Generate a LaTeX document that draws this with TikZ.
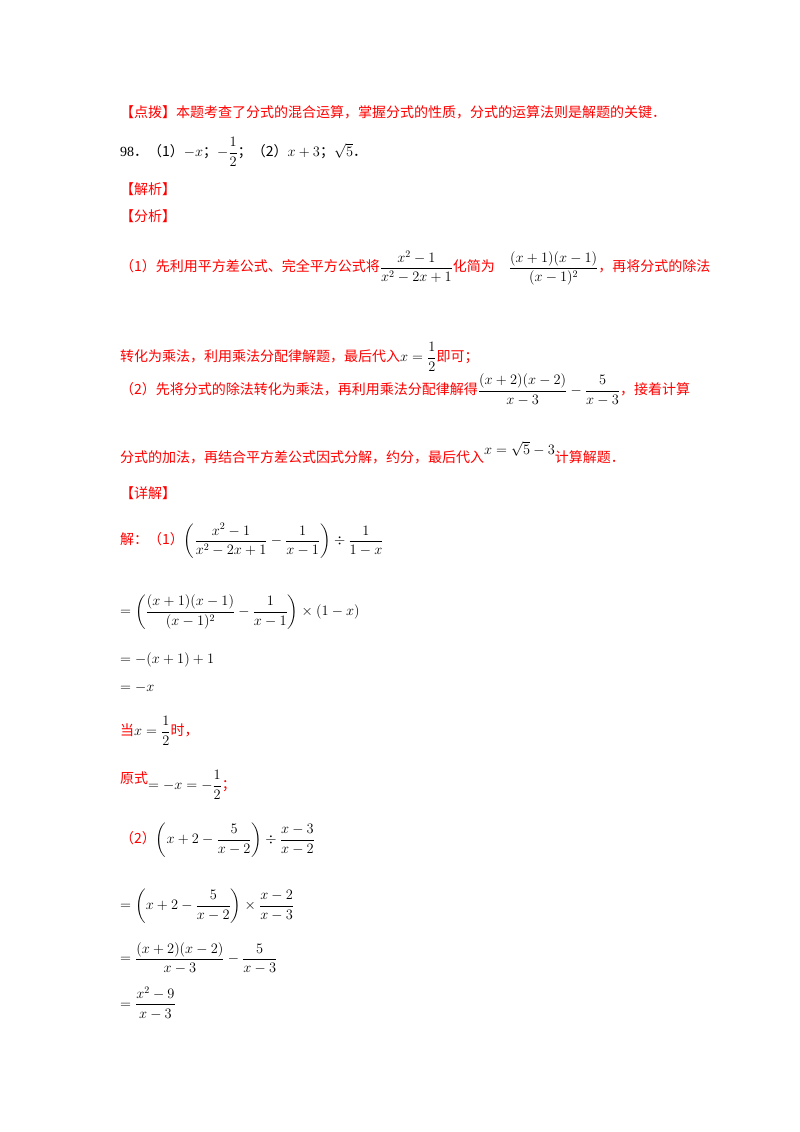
\documentclass[tikz,border=0pt]{standalone}
\usepackage{fontspec}
\usepackage{amsmath}
\setmainfont{Liberation Serif}
\newfontfamily\cjk{Noto Sans CJK SC}
\definecolor{myred}{RGB}{255,0,0}
\tikzset{ln/.style={anchor=west,inner sep=0pt,font=\fontsize{14}{17}\selectfont}}
\newcommand{\zh}[1]{{\cjk #1}}
\begin{document}
\begin{tikzpicture}[x=1pt,y=-1pt]
\useasboundingbox (0,0) rectangle (800,1132);
\node[ln,myred] (l1) at (120,112) {\zh{【点拨】本题考查了分式的混合运算，掌握分式的性质，分式的运算法则是解题的关键．}};
\node[ln] (l2) at (120,152) {98\zh{．（1）}$-x$\zh{；}$-\dfrac{1}{2}$\zh{；（2）}$x+3$\zh{；}$\sqrt{5}$\zh{．}};
\node[ln,myred] (l3) at (120,189) {\zh{【解析】}};
\node[ln,myred] (l4) at (120,216) {\zh{【分析】}};
\node[ln,myred] (l5) at (120,268) {\zh{（1）先利用平方差公式、完全平方公式将}\textcolor{black}{$\dfrac{x^2-1}{x^2-2x+1}$}\zh{化简为}\quad\textcolor{black}{$\dfrac{(x+1)(x-1)}{(x-1)^2}$}\zh{，再将分式的除法}};
\node[ln,myred] (l6) at (120,357) {\zh{转化为乘法，利用乘法分配律解题，最后代入}\textcolor{black}{$x=\dfrac12$}\zh{即可；}};
\node[ln,myred] (l7) at (120,390) {\zh{（2）先将分式的除法转化为乘法，再利用乘法分配律解得}\textcolor{black}{$\dfrac{(x+2)(x-2)}{x-3}-\dfrac{5}{x-3}$}\zh{，接着计算}};
\node[ln,myred] (l8) at (120,453) {\zh{分式的加法，再结合平方差公式因式分解，约分，最后代入}\raisebox{8pt}{\textcolor{black}{$x=\sqrt5-3$}}\zh{计算解题．}};
\node[ln,myred] (l9) at (120,493) {\zh{【详解】}};
\node[ln] (m1) at (120,541) {\textcolor{myred}{\zh{解：（1）}}$\left(\dfrac{x^2-1}{x^2-2x+1}-\dfrac{1}{x-1}\right)\div\dfrac{1}{1-x}$};
\node[ln] (m2) at (120,612) {$=\left(\dfrac{(x+1)(x-1)}{(x-1)^2}-\dfrac{1}{x-1}\right)\times(1-x)$};
\node[ln] (m3) at (120,660) {$=-(x+1)+1$};
\node[ln] (m4) at (120,688) {$=-x$};
\node[ln] (m5) at (120,731) {\textcolor{myred}{\zh{当}}$x=\dfrac12$\textcolor{myred}{\zh{时，}}};
\node[ln] (m6) at (120,785) {\raisebox{6pt}{\textcolor{myred}{\zh{原式}}}$=-x=-\dfrac12$\textcolor{myred}{\zh{；}}};
\node[ln] (m7) at (120,840) {\textcolor{myred}{\zh{（2）}}$\left(x+2-\dfrac{5}{x-2}\right)\div\dfrac{x-3}{x-2}$};
\node[ln] (m8) at (120,906) {$=\left(x+2-\dfrac{5}{x-2}\right)\times\dfrac{x-2}{x-3}$};
\node[ln] (m9) at (120,958) {$=\dfrac{(x+2)(x-2)}{x-3}-\dfrac{5}{x-3}$};
\node[ln] (m10) at (120,1003) {$=\dfrac{x^2-9}{x-3}$};
\end{tikzpicture}
\end{document}
